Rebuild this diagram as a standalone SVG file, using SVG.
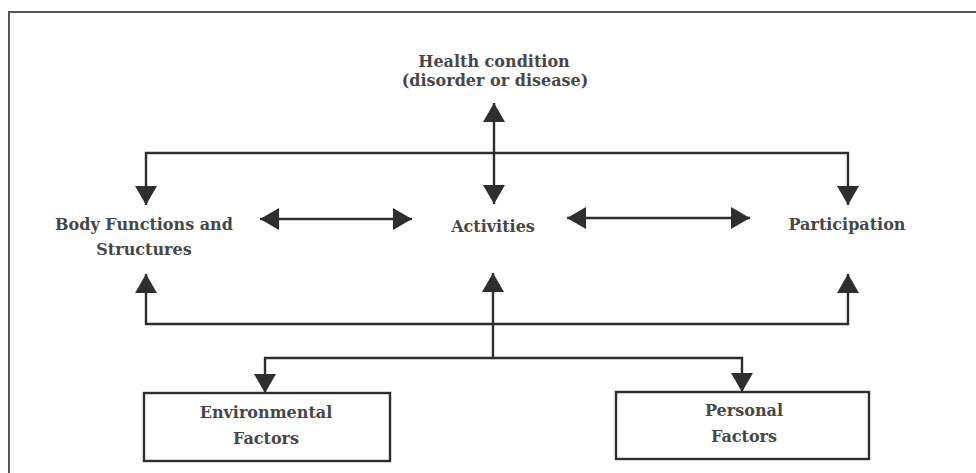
<svg xmlns="http://www.w3.org/2000/svg" width="976" height="473" viewBox="0 0 976 473">
  <style>
    .frame { fill: none; stroke: #555; stroke-width: 2; }
    .link { fill: none; stroke: #2e2e2e; stroke-width: 2.4; marker-end: url(#head); }
    .both { marker-start: url(#head); }
    .box { fill: #fff; stroke: #2e2e2e; stroke-width: 2.4; }
    .lbl { font-family: "DejaVu Serif", "Liberation Serif", serif; font-size: 16px; font-weight: bold; fill: #474747; text-anchor: middle; }
  </style>
  <defs>
    <marker id="head" markerUnits="userSpaceOnUse" markerWidth="20" markerHeight="24" viewBox="0 0 20 24" refX="19" refY="12" orient="auto-start-reverse">
      <path d="M0,1 L19,12 L0,23 z" fill="#2e2e2e"/>
    </marker>
  </defs>
  <rect width="976" height="473" fill="#fff"/>
  <path class="frame" d="M9,473 V12 H976"/>

  <g id="connectors">
    <path class="link both" d="M494,103 V204"/>
    <path class="link both" d="M146,205 V153 H848 V205"/>
    <path class="link both" d="M260,219 H412"/>
    <path class="link both" d="M567,218 H750"/>
    <path class="link both" d="M146,274 V324 H848 V274"/>
    <path class="link" d="M493,358 V273"/>
    <path class="link both" d="M265,393 V358 H742 V392"/>
  </g>

  <g id="health">
    <text class="lbl" x="494" y="67">Health condition</text>
    <text class="lbl" x="495" y="86">(disorder or disease)</text>
  </g>
  <g id="body">
    <text class="lbl" x="144" y="230">Body Functions and</text>
    <text class="lbl" x="144" y="255">Structures</text>
  </g>
  <g id="activities">
    <text class="lbl" x="493" y="232">Activities</text>
  </g>
  <g id="participation">
    <text class="lbl" x="847" y="230">Participation</text>
  </g>
  <g id="environmental">
    <rect class="box" x="144" y="393" width="246" height="68"/>
    <text class="lbl" x="266" y="418">Environmental</text>
    <text class="lbl" x="266" y="444">Factors</text>
  </g>
  <g id="personal">
    <rect class="box" x="616" y="392" width="253" height="67"/>
    <text class="lbl" x="744" y="416">Personal</text>
    <text class="lbl" x="744" y="442">Factors</text>
  </g>
</svg>
